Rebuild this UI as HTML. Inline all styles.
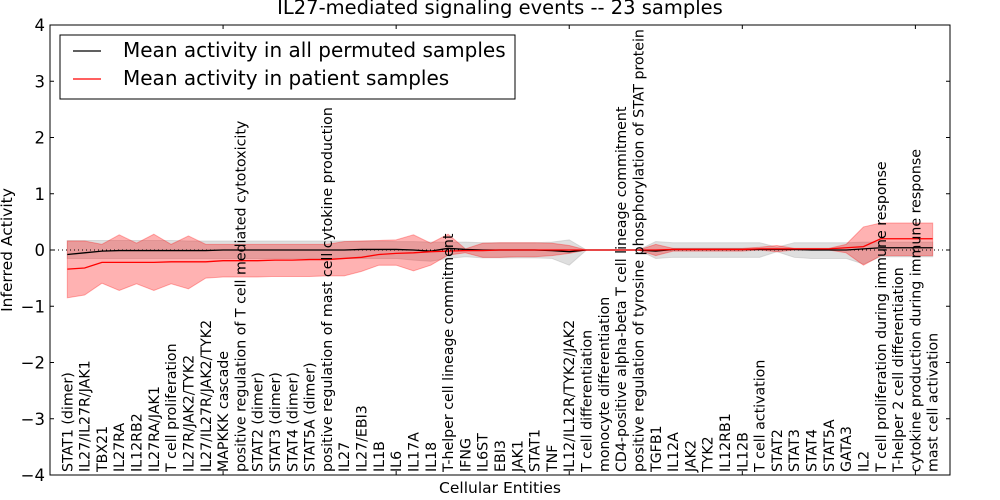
<!DOCTYPE html>
<html><head><meta charset="utf-8"><style>
body{margin:0;background:#fff;}
svg{display:block;font-family:"DejaVu Sans","Liberation Sans",sans-serif;}
</style></head><body>
<svg id="chart" width="1000" height="500" viewBox="0 0 1000 500"></svg>
<script>
const categories=["STAT1 (dimer)","IL27/IL27R/JAK1","TBX21","IL27RA","IL12RB2","IL27RA/JAK1","T cell proliferation","IL27R/JAK2/TYK2","IL27/IL27R/JAK2/TYK2","MAPKKK cascade","positive regulation of T cell mediated cytotoxicity","STAT2 (dimer)","STAT3 (dimer)","STAT4 (dimer)","STAT5A (dimer)","positive regulation of mast cell cytokine production","IL27","IL27/EBI3","IL1B","IL6","IL17A","IL18","T-helper cell lineage commitment","IFNG","IL6ST","EBI3","JAK1","STAT1","TNF","IL12/IL12R/TYK2/JAK2","T cell differentiation","monocyte differentiation","CD4-positive alpha-beta T cell lineage commitment","positive regulation of tyrosine phosphorylation of STAT protein","TGFB1","IL12A","JAK2","TYK2","IL12RB1","IL12B","T cell activation","STAT2","STAT3","STAT4","STAT5A","GATA3","IL2","T cell proliferation during immune response","T-helper 2 cell differentiation","cytokine production during immune response","mast cell activation"];
const patientMean=[-0.34,-0.32,-0.22,-0.22,-0.22,-0.22,-0.21,-0.21,-0.21,-0.19,-0.19,-0.19,-0.18,-0.18,-0.17,-0.17,-0.15,-0.13,-0.08,-0.06,-0.05,-0.03,-0.02,-0.01,-0.01,0,0,0,0,0,0,0,0,0,0,0.01,0.01,0.01,0.01,0.01,0.02,0.02,0.02,0.02,0.02,0.04,0.06,0.2,0.2,0.2,0.2];
const patientUpper=[0.16,0.16,0.1,0.27,0.12,0.28,0.1,0.25,0.1,0.1,0.1,0.1,0.1,0.1,0.1,0.1,0.15,0.16,0.17,0.18,0.27,0.12,0.28,0.02,0.12,0.13,0.13,0.13,0.12,0.08,0,0,0,0,0.1,0.03,0.03,0.03,0.03,0.03,0.05,0.08,0.03,0.03,0.03,0.1,0.41,0.48,0.48,0.48,0.48];
const patientLower=[-0.85,-0.8,-0.59,-0.72,-0.6,-0.72,-0.6,-0.69,-0.5,-0.48,-0.48,-0.48,-0.47,-0.47,-0.47,-0.46,-0.46,-0.38,-0.27,-0.27,-0.37,-0.27,-0.09,-0.05,-0.13,-0.13,-0.12,-0.12,-0.1,-0.06,0,0,0,0,-0.1,-0.02,-0.02,-0.02,-0.02,-0.02,0,-0.03,0,0,0,-0.05,-0.27,-0.1,-0.1,-0.1,-0.1];
const permMean=[-0.08,-0.05,-0.02,-0.01,-0.01,-0.01,-0.01,-0.01,-0.01,0,0,0,0,0,0,0,0,0.01,0.01,0.01,0,-0.02,0.03,0.01,0,0,0,0,-0.01,-0.03,0,0,0,0,-0.02,0.01,0.01,0.01,0.01,0.01,0.01,0.01,0.01,0,0,0,0.02,0.04,0.04,0.04,0.04];
const permUpper=[0.17,0.17,0.17,0.17,0.17,0.17,0.17,0.16,0.16,0.16,0.16,0.16,0.16,0.16,0.16,0.16,0.16,0.16,0.16,0.15,0.15,0.14,0.14,0.14,0.13,0.13,0.13,0.13,0.14,0.18,0,0,0,0,0.15,0.13,0.13,0.13,0.13,0.13,0.13,0.05,0.13,0.13,0.13,0.13,0.14,0.14,0.14,0.14,0.14];
const permLower=[-0.15,-0.15,-0.15,-0.15,-0.15,-0.15,-0.15,-0.15,-0.15,-0.15,-0.15,-0.15,-0.15,-0.15,-0.15,-0.15,-0.15,-0.15,-0.15,-0.15,-0.18,-0.2,-0.15,-0.12,-0.14,-0.14,-0.14,-0.14,-0.15,-0.27,0,0,0,0,-0.15,-0.13,-0.13,-0.13,-0.13,-0.13,-0.13,-0.03,-0.13,-0.15,-0.15,-0.15,-0.25,-0.12,-0.12,-0.12,-0.12];
const yTicks=[-4,-3,-2,-1,0,1,2,3,4];
const xTicks=[10,20,30,40,50];

const NS="http://www.w3.org/2000/svg";
const svg=document.getElementById('chart');
const L=50,R=950,T=25,B=475;
const x=v=>L+v*(R-L)/52;
const y=v=>250-v*(B-T)/8;
function mk(tag,attrs,parent){const e=document.createElementNS(NS,tag);for(const k in attrs)e.setAttribute(k,attrs[k]);(parent||svg).appendChild(e);return e;}

const title=mk('text',{x:500,y:14,'text-anchor':'middle','font-size':19.5});


title.textContent='IL27-mediated signaling events -- 23 samples';

function band(up,lo,fill,op,name){
  let d='';
  up.forEach((v,i)=>{d+=(i?'L':'M')+x(i+1)+','+y(v);});
  for(let i=lo.length-1;i>=0;i--)d+='L'+x(i+1)+','+y(lo[i]);
  const p=mk('path',{d:d+'Z',fill:fill,'fill-opacity':op,stroke:fill,'stroke-opacity':op,'stroke-width':1});
  
  
}
band(permUpper,permLower,'#b0b0b0',0.4,'permuted-band');
band(patientUpper,patientLower,'#ff0000',0.3,'patient-band');

const zero=mk('line',{x1:L,x2:R,y1:y(0),y2:y(0),stroke:'#000','stroke-dasharray':'1,3','stroke-width':1});



function line(vals,color,name){
  const p=mk('polyline',{points:vals.map((v,i)=>x(i+1)+','+y(v)).join(' '),fill:'none',stroke:color,'stroke-width':1.3});
  
  
}
line(permMean,'#000','permuted-mean-line');
line(patientMean,'#ff0000','patient-mean-line');

const frame=mk('rect',{x:L,y:T,width:R-L,height:B-T,fill:'none',stroke:'#000','stroke-width':1});



yTicks.forEach(t=>{
  mk('line',{x1:L,x2:L+4,y1:y(t),y2:y(t),stroke:'#000'});
  mk('line',{x1:R,x2:R-4,y1:y(t),y2:y(t),stroke:'#000'});
  const tx=mk('text',{x:45,y:y(t)+6,'text-anchor':'end','font-size':16.5});
  
  
  tx.textContent=(t<0?'\u2212'+(-t):t);
});
xTicks.forEach(t=>{
  mk('line',{x1:x(t),x2:x(t),y1:T,y2:T+4,stroke:'#000'});
  mk('line',{x1:x(t),x2:x(t),y1:B,y2:B-4,stroke:'#000'});
});

categories.forEach((c,i)=>{
  const px=x(i+1)+5, py=472;
  const tx=mk('text',{x:px,y:py,'font-size':14.2,transform:'rotate(-90 '+px+' '+py+')'});
  
  
  tx.textContent=c;
});

const xl=mk('text',{x:500,y:493,'text-anchor':'middle','font-size':15.5});


xl.textContent='Cellular Entities';
const yl=mk('text',{x:12,y:250,'text-anchor':'middle','font-size':15.5,transform:'rotate(-90 12 250)'});


yl.textContent='Inferred Activity';

const lg=mk('g',{});


mk('rect',{x:60,y:35,width:455,height:64,fill:'#fff',stroke:'#000'},lg);
mk('line',{x1:73,x2:101,y1:51,y2:51,stroke:'#000','stroke-width':1.3},lg);
mk('line',{x1:73,x2:101,y1:79,y2:79,stroke:'#f00','stroke-width':1.3},lg);
const e1=mk('text',{x:123,y:57,'font-size':20},lg);


e1.textContent='Mean activity in all permuted samples';
const e2=mk('text',{x:123,y:85,'font-size':20},lg);


e2.textContent='Mean activity in patient samples';
</script>
</body></html>
